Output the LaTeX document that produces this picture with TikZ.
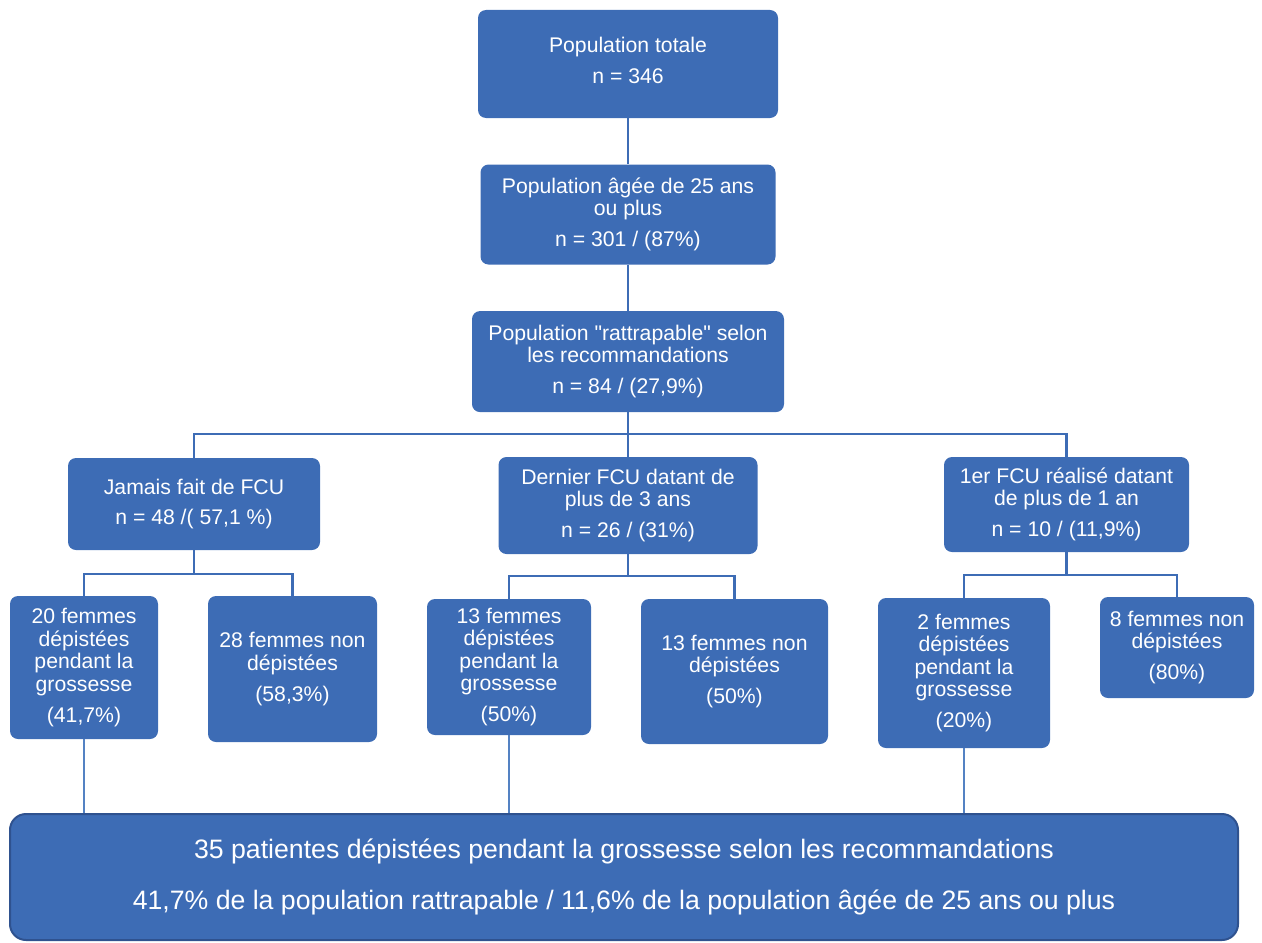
\documentclass[tikz,border=0pt]{standalone}
\usepackage{fontspec}
\setmainfont{Liberation Sans}
\usetikzlibrary{positioning}
\definecolor{bleu}{RGB}{61,108,181}
\definecolor{bleufonce}{RGB}{47,82,143}
\definecolor{bleuclair}{RGB}{84,130,195}

\begin{document}
\begin{tikzpicture}[
	x = 0.75pt, y = -0.75pt, % pixel grid, y pointing down
	bloc/.style={rectangle, rounded corners=6pt, fill=bleu, text=white, align=center, inner sep=0pt, font=\fontsize{15.9}{16.9}\selectfont},  %fill=blue, no border
	lien/.style={draw=bleu, line width=1.6pt},
	fin/.style={draw=bleuclair, line width=0.8pt},
	]
	\useasboundingbox (0,0) rectangle (1262,942);

	% Main chain
	% Nodes and their relative positions
	\node[bloc, minimum width=225pt, minimum height=81pt, text depth=6pt] (tot) at (628,64) {Population totale\\[6.3pt]n = 346};
	\node[bloc, minimum width=221.25pt, minimum height=75pt] (age) [below = 34.5pt of tot] {Population âgée de 25 ans\\ou plus\\[6.3pt]n = 301 / (87\%)};
	\node[bloc, minimum width=234pt, minimum height=75.75pt] (rat) [below = 34.5pt of age] {Population \textquotedbl rattrapable\textquotedbl{} selon\\les recommandations\\[6.3pt]n = 84 / (27,9\%)};
	% Paths connecting nodes
	\draw[lien] (tot) -- (tot |- age.north);
	\draw[lien] (age) -- (age |- rat.north);

	% Three groups
	\node[bloc, minimum width=189pt, minimum height=69pt] (jam) at (194,504) {Jamais fait de FCU\\[6.3pt]n = 48 /( 57,1 \%)};
	\node[bloc, minimum width=194.25pt, minimum height=72.75pt] (der) at (628,505.5) {Dernier FCU datant de\\plus de 3 ans\\[6.3pt]n = 26 / (31\%)};
	\node[bloc, minimum width=183.75pt, minimum height=71.25pt] (pre) at (1066.5,504.5) {1er FCU réalisé datant\\de plus de 1 an\\[6.3pt]n = 10 / (11,9\%)};
	\coordinate (j0) at (628,434);
	\draw[lien] (rat) -- (j0);
	\draw[lien] (jam.north) |- (j0) -| (pre.north);
	\draw[lien] (j0) -- (der.north);

	% Screened / not screened
	\node[bloc, minimum width=111pt, minimum height=107.25pt] (jamD) at (84,667.5) {20 femmes\\dépistées\\pendant la\\grossesse\\[6.3pt](41,7\%)};
	\node[bloc, minimum width=126.75pt, minimum height=109.5pt] (jamN) at (292.5,669) {28 femmes non\\dépistées\\[6.3pt](58,3\%)};
	\node[bloc, minimum width=123pt, minimum height=102pt] (derD) at (509,667) {13 femmes\\dépistées\\pendant la\\grossesse\\[6.3pt](50\%)};
	\node[bloc, minimum width=140.25pt, minimum height=108.75pt] (derN) at (734.5,671.5) {13 femmes non\\dépistées\\[6.3pt](50\%)};
	\node[bloc, minimum width=129pt, minimum height=112.5pt] (preD) at (964,673) {2 femmes\\dépistées\\pendant la\\grossesse\\[6.3pt](20\%)};
	\node[bloc, minimum width=115.5pt, minimum height=75.75pt] (preN) at (1177,647.5) {8 femmes non\\dépistées\\[6.3pt](80\%)};
	\coordinate (j1) at (194,574);
	\coordinate (j2) at (628,576);
	\coordinate (j3) at (1066.5,575);
	\draw[lien] (jam) -- (j1);
	\draw[lien] (jamD.north) |- (j1) -| (jamN.north);
	\draw[lien] (der) -- (j2);
	\draw[lien] (derD.north) |- (j2) -| (derN.north);
	\draw[lien] (pre) -- (j3);
	\draw[lien] (preD.north) |- (j3) -| (preN.north);

	% Summary
	\node[bloc, rounded corners=12pt, draw=bleufonce, line width=1.5pt, minimum width=921pt, minimum height=94.5pt, font=\fontsize{20}{38.25}\selectfont] (bilan) at (624,877) {35 patientes dépistées pendant la grossesse selon les recommandations\\41,7\% de la population rattrapable / 11,6\% de la population âgée de 25 ans ou plus};
	\draw[fin] (jamD) -- (jamD |- bilan.north);
	\draw[fin] (derD) -- (derD |- bilan.north);
	\draw[fin] (preD) -- (preD |- bilan.north);

\end{tikzpicture}
\end{document}
